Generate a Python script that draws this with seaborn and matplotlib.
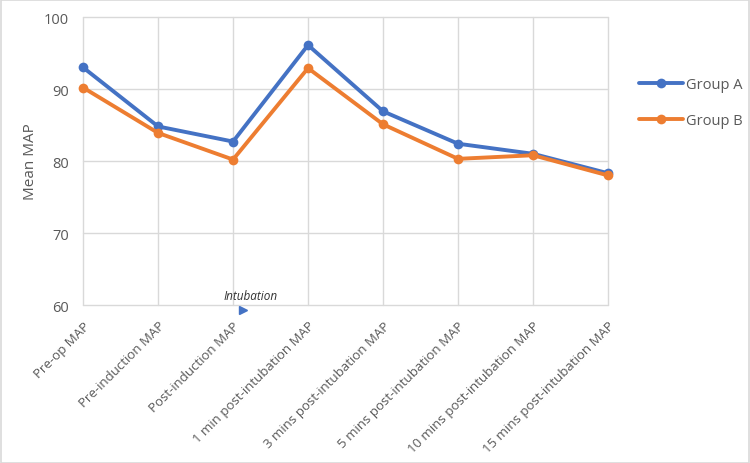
import pandas as pd
import numpy as np
import matplotlib.pyplot as plt
import seaborn as sns
from matplotlib.patches import Rectangle


stages = ["Pre-op MAP", "Pre-induction MAP", "Post-induction MAP",
          "1 min post-intubation MAP", "3 mins post-intubation MAP",
          "5 mins post-intubation MAP", "10 mins post-intubation MAP",
          "15 mins post-intubation MAP"]
group_a = [93.0, 84.8, 82.7, 96.1, 86.9, 82.4, 81.0, 78.3]
group_b = [90.2, 83.9, 80.2, 92.9, 85.1, 80.3, 80.8, 78.0]
groups = ["Group A", "Group B"]


data = pd.DataFrame({
    "stage": stages * 2,
    "pos": list(range(len(stages))) * 2,
    "value": group_a + group_b,
    "group": [groups[0]] * len(stages) + [groups[1]] * len(stages),
})

sns.set_style("white")
plt.rcParams['font.family'] = ['Open Sans', 'DejaVu Sans']

text_color = "#595959"
grid_color = "#d9d9d9"

fig = plt.figure(figsize=(7.5, 4.64), dpi=100)
ax = fig.add_axes([0.1107, 0.3405, 0.7, 0.6207])

sns.lineplot(
    data=data,
    x="pos",
    y="value",
    hue="group",
    palette=["#4472c4", "#ed7d31"],
    marker="o",
    markersize=7,
    markeredgewidth=0,
    linewidth=2.8,
    ax=ax,
)

ax.set_xlim(0, len(stages) - 1)
ax.set_ylim(60, 100)
ax.set_yticks([60, 70, 80, 90, 100])
ax.set_xticks(range(len(stages)))
ax.set_xticklabels(stages, rotation=45, ha="right", rotation_mode="anchor",
                   fontsize=9.5, color=text_color)
ax.tick_params(axis="y", labelsize=10.5, labelcolor=text_color, length=0, pad=10)
ax.tick_params(axis="x", length=5, color=grid_color, pad=5)
ax.grid(True, color=grid_color, linewidth=1)
for gl in ax.get_xgridlines() + ax.get_ygridlines():
    gl.set_clip_on(False)
for s in ax.spines.values():
    s.set_visible(False)
for ln in ax.get_lines():
    ln.set_clip_on(False)

ax.set_xlabel("")
ax.set_ylabel("Mean MAP", fontsize=11, color=text_color, labelpad=4)

# intubation marker
ax.plot([2.13], [59.3], marker=">", color="#4472c4", markersize=6, clip_on=False)
ax.text(2.23, 60.4, "Intubation", fontsize=8.5, color="#333333",
        ha="center", va="bottom", fontstyle="italic")

handles, labels = ax.get_legend_handles_labels()
ax.legend(handles, labels, loc="center left", bbox_to_anchor=(0.835, 0.777),
          bbox_transform=fig.transFigure, frameon=False, fontsize=10.5,
          labelspacing=1.4, handlelength=3, handletextpad=0.2,
          labelcolor=text_color)

fig.add_artist(Rectangle((0.001, 0.001), 0.997, 0.996, transform=fig.transFigure,
                         fill=False, edgecolor="#d9d9d9", linewidth=1.2))

plt.savefig("out.png", dpi=100)
